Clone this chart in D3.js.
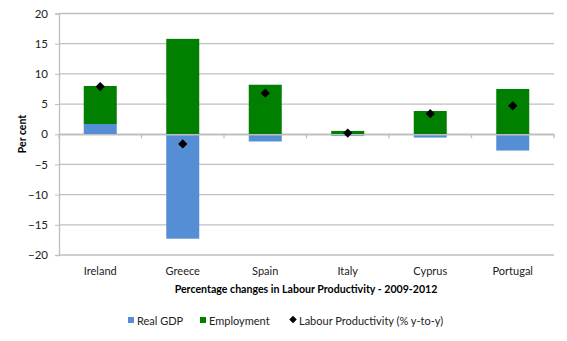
<!DOCTYPE html>
<html><head><meta charset="utf-8">
<script src="https://cdn.jsdelivr.net/npm/d3@7"></script>
<style>body{margin:0;background:#fff;} text{font-family:Lato,"Open Sans",sans-serif;}</style>
</head><body><svg id="c" width="567" height="341"></svg>
<script>
const categories = ["Ireland","Greece","Spain","Italy","Cyprus","Portugal"];
const realGDP = [1.7,-17.3,-1.2,-0.3,-0.55,-2.7];
const employment = [6.3,15.8,8.2,0.55,3.85,7.5];
const productivity = [7.9,-1.6,6.8,0.2,3.4,4.7];
const yTicks = [-20,-15,-10,-5,0,5,10,15,20];
const seriesNames = ["Real GDP","Employment","Labour Productivity (% y-to-y)"];
const colors = {"Real GDP":"#558ed5","Employment":"#007f00"};

const svg = d3.select("#c");
const pL = 59, pR = 554, pT = 13.5, pB = 255;
const x = d3.scaleBand().domain(categories).range([pL,pR]).paddingInner(0.6).paddingOuter(0.3);
const xb = d3.scaleBand().domain(categories).range([pL,pR]);
const y = d3.scaleLinear().domain([-20,20]).range([pB,pT]);

// gridlines
svg.append("g").selectAll("line").data(yTicks).join("line")
  .attr("x1",pL).attr("x2",pR).attr("y1",d=>y(d)).attr("y2",d=>y(d))
  .attr("stroke","#bfbfbf").attr("stroke-width",1.3);

// y axis
const ya = svg.append("g").attr("transform",`translate(${pL},0)`)
  .call(d3.axisLeft(y).tickValues(yTicks).tickSize(4).tickPadding(7));
ya.select(".domain").attr("stroke","#bfbfbf").attr("stroke-width",1.3);
ya.selectAll(".tick line").attr("stroke","#bfbfbf");
ya.selectAll("text").attr("font-size",11.5).attr("fill","#222").attr("font-family","Lato,sans-serif");

// stacked bars
const data = categories.map((c,i)=>({cat:c,"Real GDP":realGDP[i],"Employment":employment[i]}));
const stack = d3.stack().keys(["Real GDP","Employment"]).offset(d3.stackOffsetDiverging)(data);
svg.append("g").selectAll("g").data(stack).join("g").attr("fill",d=>colors[d.key])
  .selectAll("rect").data(d=>d).join("rect")
  .attr("x",d=>x(d.data.cat)).attr("width",x.bandwidth())
  .attr("y",d=>y(Math.max(d[0],d[1]))).attr("height",d=>Math.abs(y(d[0])-y(d[1])));

// x axis at zero
const xa = svg.append("g").attr("transform",`translate(0,${y(0)})`)
  .call(d3.axisBottom(xb).tickSize(0).tickFormat(""));
xa.select(".domain").attr("stroke","#bfbfbf").attr("stroke-width",1.3);
svg.append("g").selectAll("line").data(d3.range(categories.length+1)).join("line")
  .attr("x1",i=>pL+i*xb.step()).attr("x2",i=>pL+i*xb.step())
  .attr("y1",y(0)).attr("y2",y(0)+4).attr("stroke","#bfbfbf").attr("stroke-width",1.3);

// category labels
svg.append("g").selectAll("text").data(categories).join("text")
  .attr("x",d=>xb(d)+xb.bandwidth()/2).attr("y",275).attr("text-anchor","middle")
  .attr("font-size",11).attr("fill","#222").text(d=>d);

// diamonds
const diamond = d3.symbol().type(d3.symbolDiamond2).size(55);
svg.append("g").selectAll("path").data(productivity).join("path")
  .attr("transform",(d,i)=>`translate(${xb(categories[i])+xb.bandwidth()/2},${y(d)})`)
  .attr("d",diamond).attr("fill","#000");

// titles
svg.append("text").attr("x",306).attr("y",293).attr("text-anchor","middle")
  .attr("font-size",10.6).attr("font-weight","bold").attr("fill","#000")
  .text("Percentage changes in Labour Productivity - 2009-2012");
svg.append("text").attr("transform","translate(26,134) rotate(-90)").attr("text-anchor","middle")
  .attr("font-size",10.5).attr("font-weight","bold").attr("fill","#000").text("Per cent");

// legend
const lg = svg.append("g");
const legendX = [128,200,293];
seriesNames.forEach((n,i)=>{
  if(i<2){
    lg.append("rect").attr("x",legendX[i]).attr("y",317).attr("width",6).attr("height",6).attr("fill",colors[n]);
  } else {
    lg.append("path").attr("transform",`translate(${legendX[i]},319.5)`).attr("d",d3.symbol().type(d3.symbolDiamond2).size(36)).attr("fill","#000");
  }
  lg.append("text").attr("x",legendX[i]+(i<2?9:6)).attr("y",325).attr("font-size",11).attr("fill","#222").text(n);
});
</script></body></html>
